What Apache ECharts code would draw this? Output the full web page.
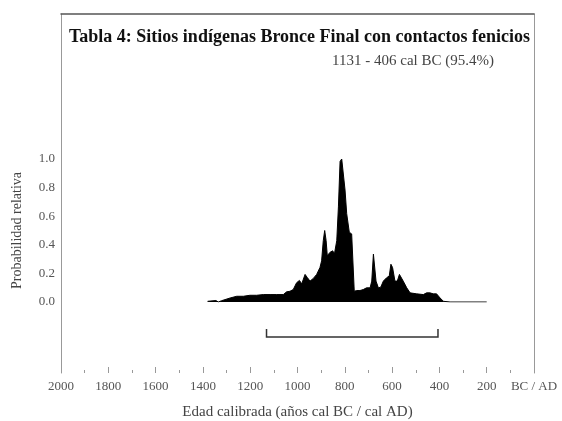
<!DOCTYPE html>
<html>
<head>
<meta charset="utf-8">
<script src="https://cdn.jsdelivr.net/npm/echarts@6/dist/echarts.min.js"></script>
<style>
  html, body { margin: 0; padding: 0; background: #fff; }
  #chart { width: 562px; height: 421px; }
</style>
</head>
<body>
<div id="chart"></div>
<script>
// años cal BC y probabilidad relativa
const yearsBC = [1380, 1377, 1345, 1335, 1321, 1314, 1285, 1257, 1229, 1201,
  1173, 1144, 1116, 1088, 1060, 1046, 1032, 1018, 1004, 992,
  982, 968, 958, 947, 933, 919, 905, 898, 891, 885,
  879, 874, 863, 851, 844, 834, 827, 820, 813, 806,
  799, 792, 781, 771, 764, 760, 750, 736, 722, 708,
  693, 686, 679, 672, 668, 658, 648, 637, 623, 612,
  605, 598, 588, 578, 569, 562, 553, 538, 524, 496,
  468, 454, 440, 426, 412, 397, 383, 355, 200]
const probability = [0.005, 0.01, 0.01, 0.0, 0.009, 0.014, 0.028, 0.04, 0.04, 0.047,
  0.047, 0.052, 0.052, 0.052, 0.052, 0.071, 0.075, 0.087, 0.134, 0.151,
  0.127, 0.193, 0.17, 0.146, 0.165, 0.193, 0.241, 0.288, 0.429, 0.5,
  0.429, 0.323, 0.347, 0.358, 0.335, 0.429, 0.665, 0.983, 1.0, 0.995,
  0.783, 0.618, 0.488, 0.476, 0.465, 0.075, 0.08, 0.08, 0.087, 0.099,
  0.099, 0.146, 0.335, 0.335, 0.146, 0.099, 0.104, 0.146, 0.17, 0.182,
  0.264, 0.241, 0.146, 0.146, 0.193, 0.189, 0.146, 0.099, 0.064, 0.057,
  0.052, 0.064, 0.064, 0.057, 0.057, 0.028, 0.005, 0, 0]

// intervalo 95.4%
const rangeBC = [1131, 406]
const rangeLabel = '95.4%'

const yTicks = [0, 0.2, 0.4, 0.6, 0.8, 1.0]

const FONT = 'Liberation Serif'
const chart = echarts.init(document.getElementById('chart'))

const hiddenAxis = {
  axisLine: { show: false, onZero: false },
  axisTick: { show: false },
  axisLabel: { show: false },
  splitLine: { show: false }
}

chart.setOption({
  animation: false,
  title: [
    {
      text: 'Tabla 4: Sitios indígenas Bronce Final con contactos fenicios',
      left: 64,
      top: 23,
      textStyle: { fontFamily: FONT, fontSize: 18, fontWeight: 'bold', color: '#111' }
    },
    {
      text: rangeBC[0] + ' - ' + rangeBC[1] + ' cal BC (' + rangeLabel + ')',
      right: 63,
      top: 49,
      textStyle: { fontFamily: FONT, fontSize: 15, fontWeight: 'normal', color: '#444' }
    }
  ],
  grid: [
    // datos
    { left: 61, right: 28, top: 159, bottom: 119, outerBoundsMode: 'none', containLabel: false },
    // marco
    { left: 61, right: 28, top: 14, bottom: 48, outerBoundsMode: 'none', containLabel: false }
  ],
  xAxis: [
    { gridIndex: 0, type: 'value', min: 0, max: 2000, inverse: true, show: false },
    {
      gridIndex: 1, type: 'value', position: 'top', min: 0, max: 2000, inverse: true,
      ...hiddenAxis,
      axisLine: { show: true, onZero: false, lineStyle: { color: '#555', width: 1.5 } }
    },
    {
      gridIndex: 1, type: 'value', position: 'bottom', min: 0, max: 2000, interval: 200, inverse: true,
      axisLine: { show: false, onZero: false },
      axisTick: { show: true, inside: true, length: 6, lineStyle: { color: '#999' } },
      minorTick: { show: true, splitNumber: 2, length: 3, lineStyle: { color: '#999' } },
      splitLine: { show: false },
      axisLabel: {
        margin: 7,
        fontFamily: FONT, fontSize: 13, color: '#555',
        formatter: (v) => (v === 0 ? 'BC / AD' : String(v))
      },
      name: 'Edad calibrada (años cal BC / cal AD)',
      nameLocation: 'middle',
      nameGap: 32,
      nameTextStyle: { fontFamily: FONT, fontSize: 15, color: '#444' }
    }
  ],
  yAxis: [
    {
      gridIndex: 0, type: 'value', min: 0, max: 1, interval: 0.2,
      axisLine: { show: false, onZero: false },
      axisTick: { show: false },
      splitLine: { show: false },
      axisLabel: {
        margin: 6,
        fontFamily: FONT, fontSize: 13, color: '#555',
        formatter: (v) => (yTicks.includes(+v.toFixed(1)) ? v.toFixed(1) : '')
      },
      name: 'Probabilidad relativa',
      nameLocation: 'middle',
      nameGap: 37,
      nameTextStyle: { fontFamily: FONT, fontSize: 14, color: '#444' }
    },
    {
      gridIndex: 1, type: 'value', position: 'left', min: 0, max: 1,
      ...hiddenAxis,
      axisLine: { show: true, onZero: false, lineStyle: { color: '#999', width: 1 } }
    },
    {
      gridIndex: 1, type: 'value', position: 'right', min: 0, max: 1,
      ...hiddenAxis,
      axisLine: { show: true, onZero: false, lineStyle: { color: '#999', width: 1 } }
    }
  ],
  series: [
    {
      type: 'line',
      xAxisIndex: 0,
      yAxisIndex: 0,
      data: yearsBC.map((y, i) => [y, probability[i]]),
      showSymbol: false,
      lineStyle: { color: '#000', width: 1 },
      areaStyle: { color: '#000', opacity: 1 }
    },
    {
      // barra del intervalo 95.4%
      type: 'custom',
      xAxisIndex: 0,
      yAxisIndex: 0,
      data: [rangeBC],
      renderItem: (params, api) => {
        const a = api.coord([api.value(0), 0])
        const b = api.coord([api.value(1), 0])
        const y = a[1] + 35
        return {
          type: 'polyline',
          shape: { points: [[a[0], y - 8], [a[0], y], [b[0], y], [b[0], y - 8]] },
          style: { stroke: '#333', lineWidth: 1.5, fill: null }
        }
      }
    }
  ]
})
</script>
</body>
</html>
